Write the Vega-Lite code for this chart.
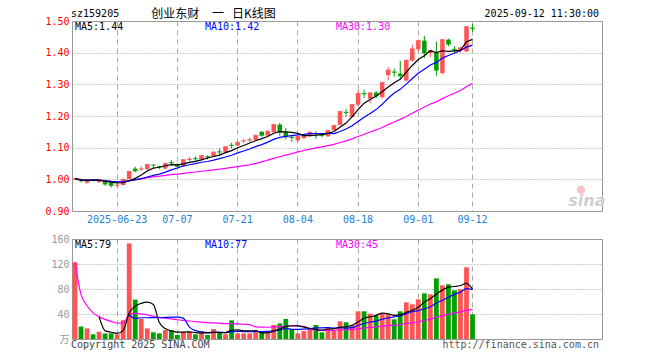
{
  "$schema": "https://vega.github.io/schema/vega-lite/v6.json",
  "background": "white",
  "padding": {"left": 44, "top": 7, "right": 5, "bottom": 2},
  "bounds": "flush",
  "spacing": 28,
  "datasets": {
    "k": [
      {"d":"2025-06-12","o":1.000,"h":1.004,"l":0.997,"c":1.002,"v":122.7},
      {"d":"2025-06-13","o":0.999,"h":1.002,"l":0.991,"c":0.995,"v":20},
      {"d":"2025-06-16","o":0.989,"h":0.998,"l":0.986,"c":0.996,"v":17},
      {"d":"2025-06-17","o":0.997,"h":0.999,"l":0.994,"c":0.996,"v":7.5},
      {"d":"2025-06-18","o":0.991,"h":1.000,"l":0.989,"c":0.998,"v":11.7},
      {"d":"2025-06-19","o":0.994,"h":0.999,"l":0.980,"c":0.985,"v":9},
      {"d":"2025-06-20","o":0.990,"h":0.992,"l":0.974,"c":0.981,"v":9},
      {"d":"2025-06-23","o":0.980,"h":0.989,"l":0.972,"c":0.982,"v":7.5},
      {"d":"2025-06-24","o":0.982,"h":1.002,"l":0.980,"c":1.000,"v":30},
      {"d":"2025-06-25","o":1.001,"h":1.027,"l":1.000,"c":1.025,"v":153},
      {"d":"2025-06-26","o":1.034,"h":1.040,"l":1.022,"c":1.027,"v":63},
      {"d":"2025-06-27","o":1.031,"h":1.041,"l":1.026,"c":1.033,"v":32},
      {"d":"2025-06-30","o":1.032,"h":1.049,"l":1.030,"c":1.047,"v":17},
      {"d":"2025-07-01","o":1.046,"h":1.047,"l":1.037,"c":1.045,"v":10.7},
      {"d":"2025-07-02","o":1.041,"h":1.043,"l":1.032,"c":1.039,"v":9},
      {"d":"2025-07-03","o":1.034,"h":1.052,"l":1.031,"c":1.050,"v":14.4},
      {"d":"2025-07-04","o":1.054,"h":1.061,"l":1.043,"c":1.052,"v":13.9},
      {"d":"2025-07-07","o":1.048,"h":1.050,"l":1.038,"c":1.041,"v":6.4},
      {"d":"2025-07-08","o":1.041,"h":1.064,"l":1.039,"c":1.062,"v":11.2},
      {"d":"2025-07-09","o":1.061,"h":1.071,"l":1.056,"c":1.064,"v":11.7},
      {"d":"2025-07-10","o":1.067,"h":1.073,"l":1.058,"c":1.065,"v":7.5},
      {"d":"2025-07-11","o":1.062,"h":1.077,"l":1.060,"c":1.075,"v":11.7},
      {"d":"2025-07-14","o":1.073,"h":1.075,"l":1.063,"c":1.071,"v":6.4},
      {"d":"2025-07-15","o":1.072,"h":1.088,"l":1.070,"c":1.086,"v":16},
      {"d":"2025-07-16","o":1.088,"h":1.098,"l":1.076,"c":1.086,"v":10.1},
      {"d":"2025-07-17","o":1.085,"h":1.105,"l":1.083,"c":1.103,"v":7.5},
      {"d":"2025-07-18","o":1.109,"h":1.115,"l":1.098,"c":1.107,"v":29.9},
      {"d":"2025-07-21","o":1.107,"h":1.119,"l":1.105,"c":1.117,"v":9},
      {"d":"2025-07-22","o":1.120,"h":1.127,"l":1.114,"c":1.122,"v":9},
      {"d":"2025-07-23","o":1.123,"h":1.131,"l":1.117,"c":1.125,"v":9},
      {"d":"2025-07-24","o":1.124,"h":1.141,"l":1.122,"c":1.139,"v":10.7},
      {"d":"2025-07-25","o":1.150,"h":1.153,"l":1.135,"c":1.139,"v":10.7},
      {"d":"2025-07-28","o":1.138,"h":1.154,"l":1.136,"c":1.152,"v":10.7},
      {"d":"2025-07-29","o":1.149,"h":1.176,"l":1.147,"c":1.173,"v":22.4},
      {"d":"2025-07-30","o":1.173,"h":1.178,"l":1.138,"c":1.150,"v":25},
      {"d":"2025-07-31","o":1.149,"h":1.162,"l":1.126,"c":1.134,"v":32},
      {"d":"2025-08-01","o":1.134,"h":1.141,"l":1.118,"c":1.132,"v":16},
      {"d":"2025-08-04","o":1.123,"h":1.137,"l":1.116,"c":1.136,"v":9},
      {"d":"2025-08-05","o":1.130,"h":1.140,"l":1.126,"c":1.138,"v":12.8},
      {"d":"2025-08-06","o":1.138,"h":1.151,"l":1.134,"c":1.149,"v":16},
      {"d":"2025-08-07","o":1.146,"h":1.152,"l":1.128,"c":1.144,"v":22.4},
      {"d":"2025-08-08","o":1.141,"h":1.144,"l":1.133,"c":1.139,"v":10.7},
      {"d":"2025-08-11","o":1.136,"h":1.157,"l":1.134,"c":1.154,"v":18.1},
      {"d":"2025-08-12","o":1.155,"h":1.172,"l":1.153,"c":1.170,"v":14.4},
      {"d":"2025-08-13","o":1.172,"h":1.216,"l":1.170,"c":1.214,"v":28.3},
      {"d":"2025-08-14","o":1.213,"h":1.222,"l":1.198,"c":1.211,"v":26.7},
      {"d":"2025-08-15","o":1.197,"h":1.238,"l":1.195,"c":1.236,"v":22.4},
      {"d":"2025-08-18","o":1.236,"h":1.283,"l":1.231,"c":1.271,"v":44.3},
      {"d":"2025-08-19","o":1.272,"h":1.283,"l":1.257,"c":1.270,"v":44.3},
      {"d":"2025-08-20","o":1.255,"h":1.275,"l":1.240,"c":1.273,"v":40.5},
      {"d":"2025-08-21","o":1.274,"h":1.279,"l":1.256,"c":1.264,"v":37.3},
      {"d":"2025-08-22","o":1.260,"h":1.308,"l":1.255,"c":1.306,"v":40},
      {"d":"2025-08-25","o":1.329,"h":1.354,"l":1.313,"c":1.345,"v":39.5},
      {"d":"2025-08-26","o":1.340,"h":1.350,"l":1.324,"c":1.338,"v":31.5},
      {"d":"2025-08-27","o":1.334,"h":1.374,"l":1.317,"c":1.327,"v":44.3},
      {"d":"2025-08-28","o":1.312,"h":1.378,"l":1.310,"c":1.376,"v":58.7},
      {"d":"2025-08-29","o":1.375,"h":1.426,"l":1.371,"c":1.412,"v":55.5},
      {"d":"2025-09-01","o":1.411,"h":1.440,"l":1.402,"c":1.438,"v":63.5},
      {"d":"2025-09-02","o":1.438,"h":1.453,"l":1.383,"c":1.399,"v":73},
      {"d":"2025-09-03","o":1.399,"h":1.408,"l":1.386,"c":1.407,"v":71.5},
      {"d":"2025-09-04","o":1.400,"h":1.435,"l":1.327,"c":1.345,"v":97},
      {"d":"2025-09-05","o":1.336,"h":1.443,"l":1.332,"c":1.441,"v":85.9},
      {"d":"2025-09-08","o":1.441,"h":1.444,"l":1.420,"c":1.427,"v":87.5},
      {"d":"2025-09-09","o":1.412,"h":1.421,"l":1.398,"c":1.409,"v":77.9},
      {"d":"2025-09-10","o":1.407,"h":1.419,"l":1.400,"c":1.415,"v":79.5},
      {"d":"2025-09-11","o":1.404,"h":1.484,"l":1.402,"c":1.482,"v":114.7},
      {"d":"2025-09-12","o":1.479,"h":1.490,"l":1.466,"c":1.476,"v":39.5}
    ]
  },
  "vconcat": [
    {
      "width": 530,
      "height": 190,
      "data": {"name": "k"},
      "encoding": {
        "x": {
          "field": "d", "type": "ordinal",
          "scale": {"type": "band", "paddingInner": 0, "paddingOuter": 0,
            "domain": ["2025-06-12","2025-06-13","2025-06-16","2025-06-17","2025-06-18","2025-06-19","2025-06-20","2025-06-23","2025-06-24","2025-06-25","2025-06-26","2025-06-27","2025-06-30","2025-07-01","2025-07-02","2025-07-03","2025-07-04","2025-07-07","2025-07-08","2025-07-09","2025-07-10","2025-07-11","2025-07-14","2025-07-15","2025-07-16","2025-07-17","2025-07-18","2025-07-21","2025-07-22","2025-07-23","2025-07-24","2025-07-25","2025-07-28","2025-07-29","2025-07-30","2025-07-31","2025-08-01","2025-08-04","2025-08-05","2025-08-06","2025-08-07","2025-08-08","2025-08-11","2025-08-12","2025-08-13","2025-08-14","2025-08-15","2025-08-18","2025-08-19","2025-08-20","2025-08-21","2025-08-22","2025-08-25","2025-08-26","2025-08-27","2025-08-28","2025-08-29","2025-09-01","2025-09-02","2025-09-03","2025-09-04","2025-09-05","2025-09-08","2025-09-09","2025-09-10","2025-09-11","2025-09-12","2025-09-15","2025-09-16","2025-09-17","2025-09-18","2025-09-19","2025-09-22","2025-09-23","2025-09-24","2025-09-25","2025-09-26","2025-09-29","2025-09-30","2025-10-09","2025-10-10","2025-10-13","2025-10-14","2025-10-15","2025-10-16","2025-10-17","2025-10-20","2025-10-21"]},
          "axis": {
            "title": null,
            "values": ["2025-06-23","2025-07-07","2025-07-21","2025-08-04","2025-08-18","2025-09-01","2025-09-12"],
            "labelExpr": "datum.value == '2025-06-23' ? datum.value : slice(datum.value, 5)",
            "labelColor": "#1a80d8",
            "labelAngle": 0,
            "labelPadding": 3,
            "labelFlush": false,
            "labelOverlap": false,
            "bandPosition": 0.5,
            "grid": true,
            "gridDash": [5, 4],
            "gridColor": "#aaa"
          }
        }
      },
      "layer": [
        {
          "mark": {"type": "rule", "strokeWidth": 1},
          "encoding": {
            "y": {"field": "l", "type": "quantitative",
              "scale": {"domain": [0.9, 1.5], "zero": false, "nice": false},
              "axis": {"title": null, "values": [0.9, 1.0, 1.1, 1.2, 1.3, 1.4, 1.5], "tickCount": 20, "format": ".2f",
                "labelOverlap": false, "labelFlush": false, "labelBound": false,
                "labelColor": "#f00", "labelPadding": 3, "grid": true, "gridDash": [1, 2], "gridColor": "#999"}},
            "y2": {"field": "h"},
            "color": {"condition": {"test": "datum.c >= datum.o", "value": "#ff5454"}, "value": "#00a000"}
          }
        },
        {
          "mark": {"type": "bar", "size": 4.5},
          "encoding": {
            "y": {"field": "o", "type": "quantitative"},
            "y2": {"field": "c"},
            "color": {"condition": {"test": "datum.c >= datum.o", "value": "#ff5454"}, "value": "#00a000"}
          }
        },
        {
          "mark": {"type": "tick", "size": 5, "thickness": 1},
          "encoding": {
            "y": {"field": "c", "type": "quantitative"},
            "color": {"condition": {"test": "datum.c >= datum.o", "value": "#ff5454"}, "value": "#00a000"}
          }
        },
        {
          "transform": [{"window": [{"op": "mean", "field": "c", "as": "ma30"}], "frame": [-29, 0], "sort": [{"field": "d"}]}],
          "mark": {"type": "line", "color": "#ff00ff", "strokeWidth": 1.2},
          "encoding": {"y": {"field": "ma30", "type": "quantitative"}}
        },
        {
          "transform": [{"window": [{"op": "mean", "field": "c", "as": "ma10"}], "frame": [-9, 0], "sort": [{"field": "d"}]}],
          "mark": {"type": "line", "color": "#0000ff", "strokeWidth": 1.2},
          "encoding": {"y": {"field": "ma10", "type": "quantitative"}}
        },
        {
          "transform": [{"window": [{"op": "mean", "field": "c", "as": "ma5"}], "frame": [-4, 0], "sort": [{"field": "d"}]}],
          "mark": {"type": "line", "color": "#000000", "strokeWidth": 1.2},
          "encoding": {"y": {"field": "ma5", "type": "quantitative"}}
        },
        {
          "data": {"values": [{"t": "MA5:1.44"}]},
          "mark": {"type": "text", "align": "left", "baseline": "middle", "dy": 5.5, "fontSize": 10, "font": "DejaVu Sans Mono", "color": "#000"},
          "encoding": {"x": {"datum": "2025-06-12", "type": "ordinal"}, "y": {"datum": 1.5, "type": "quantitative"}, "text": {"field": "t"}}
        },
        {
          "data": {"values": [{"t": "MA10:1.42"}]},
          "mark": {"type": "text", "align": "left", "baseline": "middle", "dx": -2.5, "dy": 5.5, "fontSize": 10, "font": "DejaVu Sans Mono", "color": "#0000ff"},
          "encoding": {"x": {"datum": "2025-07-14", "type": "ordinal"}, "y": {"datum": 1.5, "type": "quantitative"}, "text": {"field": "t"}}
        },
        {
          "data": {"values": [{"t": "MA30:1.30"}]},
          "mark": {"type": "text", "align": "left", "baseline": "middle", "dx": 2, "dy": 5.5, "fontSize": 10, "font": "DejaVu Sans Mono", "color": "#ff00ff"},
          "encoding": {"x": {"datum": "2025-08-12", "type": "ordinal"}, "y": {"datum": 1.5, "type": "quantitative"}, "text": {"field": "t"}}
        },
        {
          "data": {"values": [{"t": "sz159205"}]},
          "mark": {"type": "text", "align": "left", "baseline": "middle", "dx": -4, "dy": -7.5, "fontSize": 10, "font": "DejaVu Sans Mono", "color": "#000"},
          "encoding": {"x": {"datum": "2025-06-12", "type": "ordinal"}, "y": {"datum": 1.5, "type": "quantitative"}, "text": {"field": "t"}}
        },
        {
          "data": {"values": [{"t": "创业东财"}]},
          "mark": {"type": "text", "align": "left", "baseline": "middle", "dx": -2, "dy": -7.5, "fontSize": 12, "font": "Noto Sans CJK SC", "color": "#000"},
          "encoding": {"x": {"datum": "2025-07-01", "type": "ordinal"}, "y": {"datum": 1.5, "type": "quantitative"}, "text": {"field": "t"}}
        },
        {
          "data": {"values": [{"t": "一"}]},
          "mark": {"type": "text", "align": "left", "baseline": "middle", "dx": -1.5, "dy": -7.5, "fontSize": 12, "font": "Noto Sans CJK SC", "color": "#000"},
          "encoding": {"x": {"datum": "2025-07-15", "type": "ordinal"}, "y": {"datum": 1.5, "type": "quantitative"}, "text": {"field": "t"}}
        },
        {
          "data": {"values": [{"t": "日K线图"}]},
          "mark": {"type": "text", "align": "left", "baseline": "middle", "dx": 0.5, "dy": -7.5, "fontSize": 12, "font": "Noto Sans CJK SC", "color": "#000"},
          "encoding": {"x": {"datum": "2025-07-18", "type": "ordinal"}, "y": {"datum": 1.5, "type": "quantitative"}, "text": {"field": "t"}}
        },
        {
          "data": {"values": [{"t": "2025-09-12 11:30:00"}]},
          "mark": {"type": "text", "align": "right", "baseline": "middle", "dx": 0, "dy": -7.5, "fontSize": 10, "font": "DejaVu Sans Mono", "color": "#000"},
          "encoding": {"x": {"datum": "2025-10-21", "type": "ordinal"}, "y": {"datum": 1.5, "type": "quantitative"}, "text": {"field": "t"}}
        },
        {
          "data": {"values": [{"t": "sina"}]},
          "mark": {"type": "point", "shape": "circle", "filled": true, "size": 70, "color": "#f6c4c4", "opacity": 1},
          "encoding": {"x": {"datum": "2025-10-16", "type": "ordinal"}, "y": {"datum": 0.967, "type": "quantitative"}}
        },
        {
          "data": {"values": [{"t": "sina"}]},
          "mark": {"type": "text", "align": "center", "baseline": "middle", "fontSize": 16, "font": "DejaVu Sans", "fontStyle": "italic", "fontWeight": "bold", "color": "#cfcfcf"},
          "encoding": {"x": {"datum": "2025-10-17", "type": "ordinal"}, "y": {"datum": 0.932, "type": "quantitative"}, "text": {"field": "t"}}
        }
      ]
    },
    {
      "width": 530,
      "height": 100,
      "data": {"name": "k"},
      "encoding": {
        "x": {
          "field": "d", "type": "ordinal",
          "scale": {"type": "band", "paddingInner": 0, "paddingOuter": 0,
            "domain": ["2025-06-12","2025-06-13","2025-06-16","2025-06-17","2025-06-18","2025-06-19","2025-06-20","2025-06-23","2025-06-24","2025-06-25","2025-06-26","2025-06-27","2025-06-30","2025-07-01","2025-07-02","2025-07-03","2025-07-04","2025-07-07","2025-07-08","2025-07-09","2025-07-10","2025-07-11","2025-07-14","2025-07-15","2025-07-16","2025-07-17","2025-07-18","2025-07-21","2025-07-22","2025-07-23","2025-07-24","2025-07-25","2025-07-28","2025-07-29","2025-07-30","2025-07-31","2025-08-01","2025-08-04","2025-08-05","2025-08-06","2025-08-07","2025-08-08","2025-08-11","2025-08-12","2025-08-13","2025-08-14","2025-08-15","2025-08-18","2025-08-19","2025-08-20","2025-08-21","2025-08-22","2025-08-25","2025-08-26","2025-08-27","2025-08-28","2025-08-29","2025-09-01","2025-09-02","2025-09-03","2025-09-04","2025-09-05","2025-09-08","2025-09-09","2025-09-10","2025-09-11","2025-09-12","2025-09-15","2025-09-16","2025-09-17","2025-09-18","2025-09-19","2025-09-22","2025-09-23","2025-09-24","2025-09-25","2025-09-26","2025-09-29","2025-09-30","2025-10-09","2025-10-10","2025-10-13","2025-10-14","2025-10-15","2025-10-16","2025-10-17","2025-10-20","2025-10-21"]},
          "axis": {
            "title": null,
            "values": ["2025-06-23","2025-07-07","2025-07-21","2025-08-04","2025-08-18","2025-09-01","2025-09-12"],
            "labels": false,
            "bandPosition": 0.5,
            "grid": true,
            "gridDash": [5, 4],
            "gridColor": "#aaa"
          }
        }
      },
      "layer": [
        {
          "mark": {"type": "bar", "size": 4.8},
          "encoding": {
            "y": {"field": "v", "type": "quantitative",
              "scale": {"domain": [0, 160], "nice": false},
              "axis": {"title": null, "values": [0, 40, 80, 120, 160], "tickCount": 20,
                "labelExpr": "datum.value == 0 ? '万' : datum.label",
                "labelFont": "DejaVu Sans Mono, Noto Sans CJK SC",
                "labelOverlap": false, "labelFlush": false, "labelBound": false,
                "labelColor": "#999", "labelPadding": 3, "grid": true, "gridDash": [1, 2], "gridColor": "#999"}},
            "color": {"condition": {"test": "datum.c >= datum.o", "value": "#ff5454"}, "value": "#00a000"}
          }
        },
        {
          "transform": [{"window": [{"op": "mean", "field": "v", "as": "m30"}], "frame": [-29, 0], "sort": [{"field": "d"}]}],
          "mark": {"type": "line", "color": "#ff00ff", "strokeWidth": 1.2, "interpolate": "monotone"},
          "encoding": {"y": {"field": "m30", "type": "quantitative"}}
        },
        {
          "transform": [
            {"window": [{"op": "mean", "field": "v", "as": "m10"}, {"op": "count", "as": "n10"}], "frame": [-9, 0], "sort": [{"field": "d"}]},
            {"filter": "datum.n10 >= 10"}
          ],
          "mark": {"type": "line", "color": "#0000ff", "strokeWidth": 1.2, "interpolate": "monotone"},
          "encoding": {"y": {"field": "m10", "type": "quantitative"}}
        },
        {
          "transform": [
            {"window": [{"op": "mean", "field": "v", "as": "m5"}, {"op": "count", "as": "n5"}], "frame": [-4, 0], "sort": [{"field": "d"}]},
            {"filter": "datum.n5 >= 5"}
          ],
          "mark": {"type": "line", "color": "#000000", "strokeWidth": 1.2, "interpolate": "monotone"},
          "encoding": {"y": {"field": "m5", "type": "quantitative"}}
        },
        {
          "data": {"values": [{"t": "MA5:79"}]},
          "mark": {"type": "text", "align": "left", "baseline": "middle", "dy": 5.5, "fontSize": 10, "font": "DejaVu Sans Mono", "color": "#000"},
          "encoding": {"x": {"datum": "2025-06-12", "type": "ordinal"}, "y": {"datum": 160, "type": "quantitative"}, "text": {"field": "t"}}
        },
        {
          "data": {"values": [{"t": "MA10:77"}]},
          "mark": {"type": "text", "align": "left", "baseline": "middle", "dx": -2.5, "dy": 5.5, "fontSize": 10, "font": "DejaVu Sans Mono", "color": "#0000ff"},
          "encoding": {"x": {"datum": "2025-07-14", "type": "ordinal"}, "y": {"datum": 160, "type": "quantitative"}, "text": {"field": "t"}}
        },
        {
          "data": {"values": [{"t": "MA30:45"}]},
          "mark": {"type": "text", "align": "left", "baseline": "middle", "dx": 2, "dy": 5.5, "fontSize": 10, "font": "DejaVu Sans Mono", "color": "#ff00ff"},
          "encoding": {"x": {"datum": "2025-08-12", "type": "ordinal"}, "y": {"datum": 160, "type": "quantitative"}, "text": {"field": "t"}}
        },
        {
          "data": {"values": [{"t": "Copyright 2025 SINA.COM"}]},
          "mark": {"type": "text", "align": "left", "baseline": "middle", "dx": -4, "dy": 5.5, "fontSize": 10, "font": "DejaVu Sans Mono", "color": "#444"},
          "encoding": {"x": {"datum": "2025-06-12", "type": "ordinal"}, "y": {"datum": 0, "type": "quantitative"}, "text": {"field": "t"}}
        },
        {
          "data": {"values": [{"t": "http://finance.sina.com.cn"}]},
          "mark": {"type": "text", "align": "right", "baseline": "middle", "dy": 5.5, "fontSize": 10, "font": "DejaVu Sans Mono", "color": "#555"},
          "encoding": {"x": {"datum": "2025-10-21", "type": "ordinal"}, "y": {"datum": 0, "type": "quantitative"}, "text": {"field": "t"}}
        }
      ]
    }
  ],
  "config": {
    "view": {"stroke": "#999", "strokeWidth": 1},
    "axis": {"ticks": false, "domain": false, "labelFont": "DejaVu Sans Mono", "labelFontSize": 10, "labelOverlap": false},
    "axisY": {"labelOverlap": false, "labelFlush": false}
  }
}
